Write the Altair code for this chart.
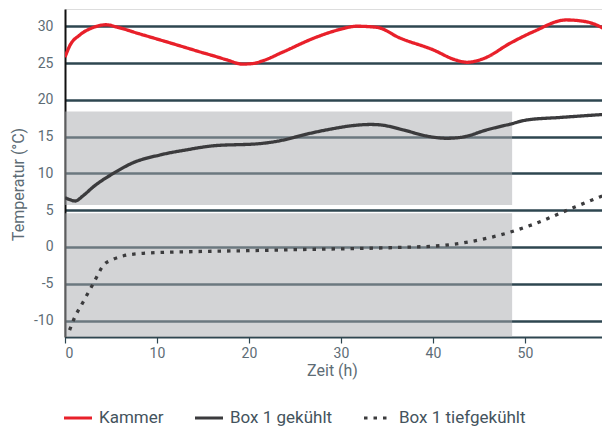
import altair as alt
import pandas as pd

# ---- data ----
series_names = ["Kammer", "Box 1 gekühlt", "Box 1 tiefgekühlt"]
series_colors = ["#e8202a", "#3b3b3d", "#3b3b3d"]

kammer_t = [0, 0.54, 1.6, 3.1, 4.5, 5.6, 8, 10.3, 12.5, 14.7, 16, 17.6, 19.3, 20.5, 21.5,
            23.7, 27.4, 30, 31.7, 33.9, 36.4, 40, 42.5, 43.7, 45.5, 48.4, 50.9, 54.5, 56.7, 59.24]
kammer_v = [25.8, 27.4, 28.8, 29.85, 30.2, 29.9, 29.0, 28.15, 27.33, 26.5, 26.03, 25.43, 24.85, 24.95, 25.3,
            26.5, 28.55, 29.6, 30.0, 29.85, 28.4, 26.8, 25.4, 25.1, 25.6, 27.7, 29.25, 30.85, 30.6, 29.2]

gekuehlt_t = [0, 0.5, 1.1, 2, 3.1, 5.25, 7.4, 10.3, 13.2, 16.1, 21.2, 23.4, 26.3, 28.8, 31.3,
              33.2, 34.2, 36.8, 39.3, 41.5, 43.3, 45.8, 48.4, 50.2, 53.8, 59.24]
gekuehlt_v = [6.7, 6.45, 6.25, 7.0, 8.2, 10.0, 11.45, 12.5, 13.2, 13.75, 14.05, 14.45, 15.35, 16.0, 16.5,
              16.65, 16.6, 15.9, 15.08, 14.77, 14.95, 15.9, 16.7, 17.26, 17.6, 18.07]

tief_t = [0.5, 0.9, 2.0, 3.1, 4.2, 5.25, 6.3, 8.5, 13.9, 20, 25.5, 32, 36.4, 40.8, 44, 47.3,
          50.9, 54.9, 58.2, 59.24]
tief_v = [-11.3, -10.0, -7.4, -4.9, -2.45, -1.67, -1.22, -0.86, -0.63, -0.5, -0.35, -0.2, -0.05, 0.18,
          0.72, 1.63, 3.08, 5.16, 6.84, 7.35]

# shaded regions (x from, x to, y from, y to)
band_x0 = [0, 0]
band_x1 = [48.6, 48.6]
band_y0 = [5.7, -12.23]
band_y1 = [18.4, 4.6]

x_ticks = [0, 10, 20, 30, 40, 50]
y_ticks = [-10, -5, 0, 5, 10, 15, 20, 25, 30]
x_domain = [0, 58.37]
y_domain = [-12.23, 32.34]

# ---- tables ----
rows = []
for name, ts, vs in zip(series_names, [kammer_t, gekuehlt_t, tief_t], [kammer_v, gekuehlt_v, tief_v]):
    for t, v in zip(ts, vs):
        rows.append({"series": name, "t": t, "v": v})
lines_df = pd.DataFrame(rows)
bands_df = pd.DataFrame({"x0": band_x0, "x1": band_x1, "y0": band_y0, "y1": band_y1})

FONT = "Roboto"
LABEL_COLOR = "#5d6c75"
GRID = "#2e4650"
minus_expr = "datum.value < 0 ? '-' + abs(datum.value) : '' + datum.value"

xscale = alt.Scale(domain=x_domain, nice=False, zero=False)
yscale = alt.Scale(domain=y_domain, nice=False, zero=False)

bands = alt.Chart(bands_df).mark_rect(fill="#a8aaad", opacity=0.5).encode(
    x=alt.X("x0:Q", scale=xscale,
            axis=alt.Axis(values=x_ticks, grid=False, domainColor=GRID, domainWidth=2,
                          tickColor=GRID, tickSize=6, tickWidth=1.2, labelFont=FONT,
                          labelFontSize=14, labelColor=LABEL_COLOR, labelPadding=3,
                          title="Zeit (h)", titleFont=FONT, titleFontSize=16,
                          titleFontWeight="normal", titleColor=LABEL_COLOR,
                          titleX=267, titleY=33, titleBaseline="middle")),
    x2="x1:Q",
    y=alt.Y("y0:Q", scale=yscale,
            axis=alt.Axis(values=y_ticks, grid=True, gridColor=GRID, gridWidth=2.3,
                          domainColor="#111111", domainWidth=2, ticks=False,
                          labelFont=FONT, labelFontSize=14, labelColor=LABEL_COLOR,
                          labelPadding=12, labelExpr=minus_expr,
                          title="Temperatur  (°C)", titleFont=FONT,
                          titleFontSize=16, titleFontWeight="normal", titleColor=LABEL_COLOR,
                          titleAngle=270, titleX=-47, titleY=175, titleBaseline="middle",
                          titleAlign="center")),
    y2="y1:Q",
)

legend = alt.Legend(title=None, orient="none", legendX=-3, legendY=393, direction="horizontal",
                    symbolType="stroke", symbolSize=784, symbolStrokeWidth=3.2,
                    labelFont=FONT, labelFontSize=17, labelColor="#44535d", labelOffset=5,
                    columnPadding=24, padding=0)

lines = alt.Chart(lines_df).mark_line(interpolate="monotone", strokeWidth=3.3, clip=True).encode(
    x=alt.X("t:Q", scale=xscale),
    y=alt.Y("v:Q", scale=yscale),
    color=alt.Color("series:N", scale=alt.Scale(domain=series_names, range=series_colors),
                    legend=legend),
    strokeDash=alt.StrokeDash("series:N",
                              scale=alt.Scale(domain=series_names, range=[[1, 0], [1, 0], [3.5, 6]]),
                              legend=legend),
    detail="series:N",
)

chart = alt.layer(bands, lines).properties(
    width=537, height=328,
    autosize=alt.AutoSizeParams(type="none"),
    padding={"left": 57, "top": 1, "right": 0, "bottom": 95},
).configure_view(stroke=None).configure(background="white")

chart.save("out.html", embed_options={"renderer": "svg", "actions": False})
